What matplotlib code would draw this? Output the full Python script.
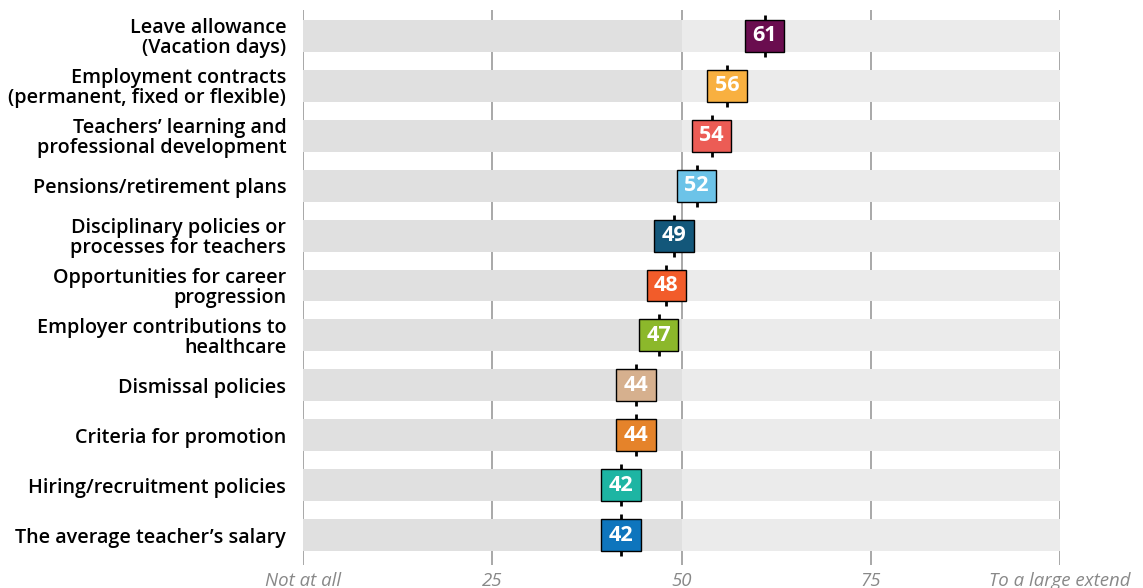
import numpy as np
from matplotlib import pyplot as plt

labels = ["Leave allowance\n(Vacation days)",
          "Employment contracts\n(permanent, fixed or flexible)",
          "Teachers\u2019 learning and\nprofessional development",
          "Pensions/retirement plans",
          "Disciplinary policies or\nprocesses for teachers",
          "Opportunities for career\nprogression",
          "Employer contributions to\nhealthcare",
          "Dismissal policies",
          "Criteria for promotion",
          "Hiring/recruitment policies",
          "The average teacher\u2019s salary"]
values = [61, 56, 54, 52, 49, 48, 47, 44, 44, 42, 42]
colors = ["#6a0d4f", "#f8b040", "#ec5c55", "#6cc3e8", "#13577a", "#f25c2a",
          "#8cb82b", "#d6b08e", "#e5832a", "#1db5a3", "#0e75bd"]
xticks = [0, 25, 50, 75, 100]
xticklabels = ["Not at all", "25", "50", "75", "To a large extend"]

plt.rcParams['font.family'] = ['Open Sans', 'DejaVu Sans']

fig = plt.figure(figsize=(11.43, 5.88), dpi=100)
ax = fig.add_axes([303/1143, 23/588, 757/1143, 555/588])

rows = np.arange(len(values))
vals = np.array(values)
bar_h = 0.64
box_w = 5.2

# gridlines behind the bars
for x in xticks:
    ax.axvline(x, color="#9a9a9a", lw=1.2, zorder=0)

ax.barh(rows, 50, left=0, height=bar_h, color="#e0e0e0", zorder=1)
ax.barh(rows, 50, left=50, height=bar_h, color="#ebebeb", zorder=1)

# value marker: tick line + coloured box
ax.vlines(vals, rows - 0.42, rows + 0.42, color="black", lw=2, zorder=2)
ax.barh(rows, box_w, left=vals - box_w / 2, height=bar_h, color=colors,
        edgecolor="black", lw=1, zorder=3)
for r, v in zip(rows, values):
    ax.text(v, r, str(v), ha="center", va="center", color="white",
            fontsize=15.5, fontweight="bold", zorder=4)

ax.set_xlim(0, 100)
ax.set_ylim(10.6, -0.52)
ax.set_yticks(rows)
ax.set_yticklabels(labels, fontsize=14.2, fontweight="semibold", linespacing=1.0)
ax.set_xticks(xticks)
ax.set_xticklabels(xticklabels, fontsize=13.4, style="italic", color="#888888")
ax.tick_params(axis="both", length=0)
ax.tick_params(axis="y", pad=12)
ax.tick_params(axis="x", pad=5)
for s in ax.spines.values():
    s.set_visible(False)

fig.savefig("out.png", dpi=100)
